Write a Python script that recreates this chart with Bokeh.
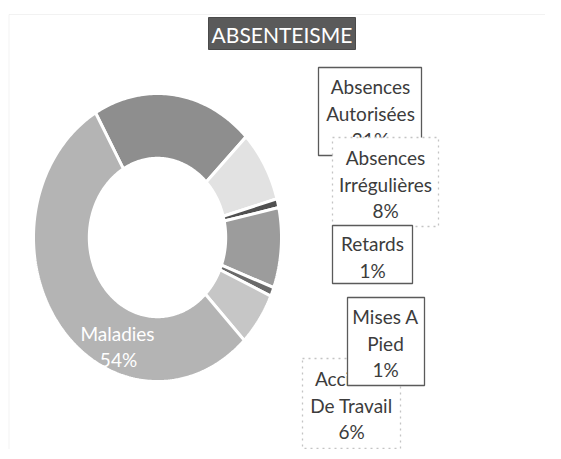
import numpy as np
from bokeh.plotting import figure
from bokeh.models import Range1d, ColumnDataSource, BoxAnnotation
from bokeh.core.properties import value
from bokeh.embed import file_html
from bokeh.resources import INLINE

# ---- data ----
categories = ["Absences Autorisées", "Absences Irrégulières", "Retards", "Autres",
              "Mises A Pied", "Accident De Travail", "Maladies"]
values = [21, 8, 1, 9, 1, 6, 54]
display_lines = [["Absences", "Autorisées"], ["Absences", "Irrégulières"], ["Retards"], None,
                 ["Mises A", "Pied"], ["Accident", "De Travail"], ["Maladies"]]
colors = ["#8e8e8e", "#e2e2e2", "#505050", "#9c9c9c", "#6a6a6a", "#c6c6c6", "#b4b4b4"]
title = "ABSENTEISME"

W, H = 545, 449
OFF = 8
FONT = "Lato"

p = figure(width=W, height=H, output_backend="svg", toolbar_location=None,
           x_range=Range1d(-OFF, W - OFF), y_range=Range1d(H - OFF, -OFF), min_border=0)
p.axis.visible = False
p.grid.visible = False
p.outline_line_color = None
p.background_fill_color = "white"

# outer frame
p.add_layout(BoxAnnotation(left=0.5, right=W + 20, top=6, bottom=H + 20,
                           fill_alpha=0, line_color="#d4d4d4", line_width=1))

# ---- donut (elliptical due to the scan's aspect) ----
cx, cy, rx, ry, inner = 149, 229, 124, 144, 0.55
start = np.deg2rad(120)
total = float(sum(values))
xs, ys = [], []
a0 = start
for v in values:
    a1 = a0 - 2 * np.pi * v / total
    t = np.linspace(a0, a1, max(int(abs(a1 - a0) * 60), 6))
    ox = cx + rx * np.cos(t)
    oy = cy - ry * np.sin(t)
    ix = cx + rx * inner * np.cos(t[::-1])
    iy = cy - ry * inner * np.sin(t[::-1])
    xs.append(list(np.concatenate([ox, ix])))
    ys.append(list(np.concatenate([oy, iy])))
    a0 = a1
p.patches(xs="xs", ys="ys", fill_color="color", line_color="white", line_width=3,
          source=ColumnDataSource(dict(xs=xs, ys=ys, color=colors)))

# ---- title ----
p.quad(left=[200], right=[347], top=[9], bottom=[41], fill_color="#5a5a5a", line_color="#4a4a4a")
p.text(x=[273.5], y=[26], text=[title], text_color="white", text_font=value(FONT),
       text_font_size="21px", text_align="center", text_baseline="middle")

# ---- callout boxes: (index, left, right, top, bottom, center x, first line y, border colour, dash)
boxes = [
    (0, 310, 413, 59, 147, 362, 78, "#5a5a5a", "solid"),
    (1, 324, 430, 129, 218, 377, 149, "#c4c4c4", "dotted"),
    (2, 324, 404, 217, 275, 364, 235, "#5a5a5a", "solid"),
    (5, 294, 392, 350, 440, 343, 370, "#c4c4c4", "dotted"),
    (4, 339, 416, 289, 377, 377, 308, "#5a5a5a", "solid"),
]
LH = 26.5
for idx, l, r, t, b, tx, ty, bc, dash in boxes:
    p.quad(left=[l], right=[r], top=[t], bottom=[b], fill_color="white",
           line_color=bc, line_width=1.3, line_dash=dash)
    lines = display_lines[idx] + [f"{values[idx]}%"]
    p.text(x=[tx] * len(lines), y=[ty + LH * k for k in range(len(lines))], text=lines,
           text_color="#3c3c3c", text_font=value(FONT), text_font_size="19px",
           text_align="center", text_baseline="middle")

# Maladies label inside its slice
ml = display_lines[6] + [f"{values[6]}%"]
p.text(x=[109, 110], y=[325, 351], text=ml, text_color="white", text_font=value(FONT),
       text_font_size="19px", text_align="center", text_baseline="middle")

open("out.html", "w").write(file_html(p, INLINE))
